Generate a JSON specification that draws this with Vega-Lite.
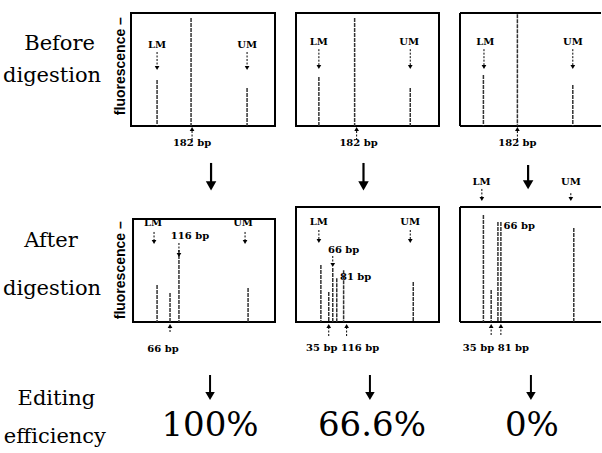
{
  "$schema": "https://vega.github.io/schema/vega-lite/v6.json",
  "background": "white",
  "padding": {"left": 0, "top": 12, "right": 0, "bottom": 0},
  "bounds": "flush",
  "columns": 4,
  "spacing": {"row": 81, "column": 21},
  "config": {
    "font": "DejaVu Serif",
    "view": {"stroke": "black", "strokeWidth": 2},
    "axisX": {"disable": true},
    "axisY": {"disable": true},
    "text": {"font": "DejaVu Serif"}
  },
  "datasets": {
    "peaks": [
      {"panel": "B1", "frag": "LM", "pos": 18.1, "height": 40.7},
      {"panel": "B1", "frag": "182", "pos": 41.7, "height": 95.6},
      {"panel": "B1", "frag": "UM", "pos": 80.6, "height": 33.6},
      {"panel": "B2", "frag": "LM", "pos": 16, "height": 43.4},
      {"panel": "B2", "frag": "182", "pos": 41, "height": 95.6},
      {"panel": "B2", "frag": "UM", "pos": 79.9, "height": 33.6},
      {"panel": "B3", "frag": "LM", "pos": 16.6, "height": 45.1},
      {"panel": "B3", "frag": "182", "pos": 40.7, "height": 99},
      {"panel": "B3", "frag": "UM", "pos": 80, "height": 36.3},
      {"panel": "A1", "frag": "LM", "pos": 18.1, "height": 32.2},
      {"panel": "A1", "frag": "66", "pos": 27.1, "height": 25.2},
      {"panel": "A1", "frag": "116", "pos": 33.3, "height": 62.6},
      {"panel": "A1", "frag": "UM", "pos": 81.3, "height": 29.6},
      {"panel": "A2", "frag": "LM", "pos": 17.4, "height": 49.6},
      {"panel": "A2", "frag": "35", "pos": 22.9, "height": 26},
      {"panel": "A2", "frag": "66", "pos": 25.7, "height": 47},
      {"panel": "A2", "frag": "81", "pos": 28.5, "height": 38},
      {"panel": "A2", "frag": "116", "pos": 33.3, "height": 45},
      {"panel": "A2", "frag": "UM", "pos": 82, "height": 34.8},
      {"panel": "A3", "frag": "LM", "pos": 16.6, "height": 93},
      {"panel": "A3", "frag": "35", "pos": 22.1, "height": 27.8},
      {"panel": "A3", "frag": "81a", "pos": 26.9, "height": 87},
      {"panel": "A3", "frag": "81b", "pos": 29, "height": 87},
      {"panel": "A3", "frag": "UM", "pos": 80.7, "height": 81.7}
    ],
    "labels": [
      {"panel": "B1", "text": "LM", "pos": 18.1, "level": 71.7},
      {"panel": "B1", "text": "UM", "pos": 80.6, "level": 71.7},
      {"panel": "B1", "text": "182 bp", "pos": 42.4, "level": -15},
      {"panel": "B2", "text": "LM", "pos": 16, "level": 74.3},
      {"panel": "B2", "text": "UM", "pos": 79.2, "level": 74.3},
      {"panel": "B2", "text": "182 bp", "pos": 43.75, "level": -15},
      {"panel": "B3", "text": "LM", "pos": 17.9, "level": 74.3},
      {"panel": "B3", "text": "UM", "pos": 80, "level": 74.3},
      {"panel": "B3", "text": "182 bp", "pos": 40.7, "level": -15},
      {"panel": "A1", "text": "LM", "pos": 15.3, "level": 86.1},
      {"panel": "A1", "text": "116 bp", "pos": 41, "level": 74.8},
      {"panel": "A1", "text": "UM", "pos": 77.8, "level": 86.1},
      {"panel": "A1", "text": "66 bp", "pos": 22.2, "level": -23.5},
      {"panel": "A2", "text": "LM", "pos": 16, "level": 87},
      {"panel": "A2", "text": "UM", "pos": 79.9, "level": 87},
      {"panel": "A2", "text": "66 bp", "pos": 33.3, "level": 62.6},
      {"panel": "A2", "text": "81 bp", "pos": 41.7, "level": 39},
      {"panel": "A2", "text": "35 bp 116 bp", "pos": 32.6, "level": -22.6},
      {"panel": "A3", "text": "LM", "pos": 15.2, "level": 121.7},
      {"panel": "A3", "text": "UM", "pos": 78.6, "level": 121.7},
      {"panel": "A3", "text": "66 bp", "pos": 42, "level": 83.5},
      {"panel": "A3", "text": "35 bp 81 bp", "pos": 25.5, "level": -22.6}
    ],
    "axisTitles": [
      {"panel": "B1", "text": "fluorescence –", "pos": -7, "level": 53},
      {"panel": "A1", "text": "fluorescence –", "pos": -7, "level": 45}
    ],
    "rowLabels": [
      {"panel": "L1", "text": "Before", "pos": 22, "level": 67.3},
      {"panel": "L1", "text": "digestion", "pos": 2.7, "level": 38.9},
      {"panel": "L2", "text": "After", "pos": 22, "level": 65.2},
      {"panel": "L2", "text": "digestion", "pos": 2.7, "level": 23.5},
      {"panel": "L3", "text": "Editing", "pos": 16, "level": 96},
      {"panel": "L3", "text": "efficiency", "pos": 3.5, "level": 20}
    ],
    "efficiency": [
      {"panel": "E1", "text": "100%", "pos": 54.9, "level": 34},
      {"panel": "E2", "text": "66.6%", "pos": 53.1, "level": 34},
      {"panel": "E3", "text": "0%", "pos": 51, "level": 34}
    ],
    "arrows": [
      {"panel": "B1", "kind": "small", "dir": "down", "pos": 18.1, "tail": 65.5, "tip": 51.3},
      {"panel": "B1", "kind": "small", "dir": "down", "pos": 80.6, "tail": 65.5, "tip": 51.3},
      {"panel": "B1", "kind": "small", "dir": "up", "pos": 42.4, "tail": -12.4, "tip": -2.7},
      {"panel": "B1", "kind": "big", "dir": "down", "pos": 55.6, "tail": -32.7, "tip": -53},
      {"panel": "B2", "kind": "small", "dir": "down", "pos": 16, "tail": 68, "tip": 52.2},
      {"panel": "B2", "kind": "small", "dir": "down", "pos": 79.9, "tail": 68, "tip": 52.2},
      {"panel": "B2", "kind": "small", "dir": "up", "pos": 42.4, "tail": -12.4, "tip": -2.7},
      {"panel": "B2", "kind": "big", "dir": "down", "pos": 47.2, "tail": -32.7, "tip": -53},
      {"panel": "B3", "kind": "small", "dir": "down", "pos": 17, "tail": 68, "tip": 52.2},
      {"panel": "B3", "kind": "small", "dir": "down", "pos": 80, "tail": 68, "tip": 52.2},
      {"panel": "B3", "kind": "small", "dir": "up", "pos": 40.7, "tail": -12.4, "tip": -2.7},
      {"panel": "B3", "kind": "big", "dir": "down", "pos": 48.3, "tail": -34.5, "tip": -52},
      {"panel": "A1", "kind": "small", "dir": "down", "pos": 16, "tail": 78.3, "tip": 69.6},
      {"panel": "A1", "kind": "small", "dir": "down", "pos": 33.3, "tail": 68.7, "tip": 58.3},
      {"panel": "A1", "kind": "small", "dir": "down", "pos": 79.2, "tail": 78.3, "tip": 69.6},
      {"panel": "A1", "kind": "small", "dir": "up", "pos": 27.1, "tail": -8.7, "tip": -3.5},
      {"panel": "A2", "kind": "small", "dir": "down", "pos": 16, "tail": 80, "tip": 70.4},
      {"panel": "A2", "kind": "small", "dir": "down", "pos": 79.9, "tail": 80, "tip": 70.4},
      {"panel": "A2", "kind": "small", "dir": "down", "pos": 25.7, "tail": 57.4, "tip": 49.6},
      {"panel": "A2", "kind": "small", "dir": "up", "pos": 22.9, "tail": -12.2, "tip": -3.5},
      {"panel": "A2", "kind": "small", "dir": "up", "pos": 35.4, "tail": -12.2, "tip": -3.5},
      {"panel": "A3", "kind": "small", "dir": "down", "pos": 15.5, "tail": 115.7, "tip": 107},
      {"panel": "A3", "kind": "small", "dir": "down", "pos": 78.6, "tail": 112, "tip": 107},
      {"panel": "A3", "kind": "small", "dir": "up", "pos": 22.1, "tail": -11.3, "tip": -3.5},
      {"panel": "A3", "kind": "small", "dir": "up", "pos": 29, "tail": -11.3, "tip": -3.5},
      {"panel": "E1", "kind": "big", "dir": "down", "pos": 54.9, "tail": 156, "tip": 114},
      {"panel": "E2", "kind": "big", "dir": "down", "pos": 51.7, "tail": 156, "tip": 114},
      {"panel": "E3", "kind": "big", "dir": "down", "pos": 50.3, "tail": 156, "tip": 114}
    ]
  },
  "concat": [
    {
      "width": 110, "height": 113, "view": {"stroke": null},
      "data": {"name": "rowLabels"},
      "transform": [{"filter": "datum.panel === 'L1'"}],
      "mark": {"type": "text", "align": "left", "baseline": "alphabetic", "fontSize": 21, "font": "DejaVu Serif"},
      "encoding": {
        "x": {"field": "pos", "type": "quantitative", "scale": {"domain": [0, 100]}},
        "y": {"field": "level", "type": "quantitative", "scale": {"domain": [0, 100]}},
        "text": {"field": "text"}
      }
    },
    {
      "width": 144, "height": 113,
      "layer": [
        {"data": {"name": "peaks"}, "transform": [{"filter": "datum.panel === 'B1'"}],
         "mark": {"type": "rule", "color": "#333", "strokeWidth": 1.5, "strokeDash": [4, 1]},
         "encoding": {
           "x": {"field": "pos", "type": "quantitative", "scale": {"domain": [0, 100]}},
           "y": {"field": "height", "type": "quantitative", "scale": {"domain": [0, 100]}},
           "y2": {"datum": 0}}},
        {"data": {"name": "axisTitles"}, "transform": [{"filter": "datum.panel === 'B1'"}],
         "mark": {"type": "text", "angle": 270, "font": "Liberation Sans", "fontWeight": "bold", "fontSize": 14, "baseline": "middle", "align": "center"},
         "encoding": {"x": {"field": "pos", "type": "quantitative"}, "y": {"field": "level", "type": "quantitative"}, "text": {"field": "text"}}},
        {"data": {"name": "labels"}, "transform": [{"filter": "datum.panel === 'B1'"}],
         "mark": {"type": "text", "fontSize": 10, "fontWeight": "bold", "baseline": "middle", "font": "DejaVu Serif"},
         "encoding": {"x": {"field": "pos", "type": "quantitative"}, "y": {"field": "level", "type": "quantitative"}, "text": {"field": "text"}}},
        {"data": {"name": "arrows"}, "transform": [{"filter": "datum.panel === 'B1' && datum.kind === 'small'"}],
         "mark": {"type": "rule", "color": "black", "strokeWidth": 1, "strokeDash": [2, 1.5]},
         "encoding": {"x": {"field": "pos", "type": "quantitative"}, "y": {"field": "tail", "type": "quantitative"}, "y2": {"field": "tip"}}},
        {"data": {"name": "arrows"}, "transform": [{"filter": "datum.panel === 'B1' && datum.kind === 'small'"}],
         "mark": {"type": "point", "filled": true, "color": "black", "size": 22, "opacity": 1},
         "encoding": {"x": {"field": "pos", "type": "quantitative"}, "y": {"field": "tip", "type": "quantitative"},
           "shape": {"field": "dir", "type": "nominal", "scale": {"domain": ["down", "up"], "range": ["triangle-down", "triangle-up"]}, "legend": null}}},
        {"data": {"name": "arrows"}, "transform": [{"filter": "datum.panel === 'B1' && datum.kind === 'big'"}],
         "mark": {"type": "rule", "color": "black", "strokeWidth": 2.2},
         "encoding": {"x": {"field": "pos", "type": "quantitative"}, "y": {"field": "tail", "type": "quantitative"}, "y2": {"field": "tip"}}},
        {"data": {"name": "arrows"}, "transform": [{"filter": "datum.panel === 'B1' && datum.kind === 'big'"}],
         "mark": {"type": "point", "filled": true, "color": "black", "size": 110, "opacity": 1, "shape": "triangle-down"},
         "encoding": {"x": {"field": "pos", "type": "quantitative"}, "y": {"field": "tip", "type": "quantitative"}}}
      ]
    },
    {
      "width": 143, "height": 113,
      "layer": [
        {"data": {"name": "peaks"}, "transform": [{"filter": "datum.panel === 'B2'"}],
         "mark": {"type": "rule", "color": "#333", "strokeWidth": 1.5, "strokeDash": [4, 1]},
         "encoding": {
           "x": {"field": "pos", "type": "quantitative", "scale": {"domain": [0, 100]}},
           "y": {"field": "height", "type": "quantitative", "scale": {"domain": [0, 100]}},
           "y2": {"datum": 0}}},
        {"data": {"name": "labels"}, "transform": [{"filter": "datum.panel === 'B2'"}],
         "mark": {"type": "text", "fontSize": 10, "fontWeight": "bold", "baseline": "middle", "font": "DejaVu Serif"},
         "encoding": {"x": {"field": "pos", "type": "quantitative"}, "y": {"field": "level", "type": "quantitative"}, "text": {"field": "text"}}},
        {"data": {"name": "arrows"}, "transform": [{"filter": "datum.panel === 'B2' && datum.kind === 'small'"}],
         "mark": {"type": "rule", "color": "black", "strokeWidth": 1, "strokeDash": [2, 1.5]},
         "encoding": {"x": {"field": "pos", "type": "quantitative"}, "y": {"field": "tail", "type": "quantitative"}, "y2": {"field": "tip"}}},
        {"data": {"name": "arrows"}, "transform": [{"filter": "datum.panel === 'B2' && datum.kind === 'small'"}],
         "mark": {"type": "point", "filled": true, "color": "black", "size": 22, "opacity": 1},
         "encoding": {"x": {"field": "pos", "type": "quantitative"}, "y": {"field": "tip", "type": "quantitative"},
           "shape": {"field": "dir", "type": "nominal", "scale": {"domain": ["down", "up"], "range": ["triangle-down", "triangle-up"]}, "legend": null}}},
        {"data": {"name": "arrows"}, "transform": [{"filter": "datum.panel === 'B2' && datum.kind === 'big'"}],
         "mark": {"type": "rule", "color": "black", "strokeWidth": 2.2},
         "encoding": {"x": {"field": "pos", "type": "quantitative"}, "y": {"field": "tail", "type": "quantitative"}, "y2": {"field": "tip"}}},
        {"data": {"name": "arrows"}, "transform": [{"filter": "datum.panel === 'B2' && datum.kind === 'big'"}],
         "mark": {"type": "point", "filled": true, "color": "black", "size": 110, "opacity": 1, "shape": "triangle-down"},
         "encoding": {"x": {"field": "pos", "type": "quantitative"}, "y": {"field": "tip", "type": "quantitative"}}}
      ]
    },
    {
      "width": 141, "height": 113, "view": {"stroke": null},
      "layer": [
        {"data": {"values": [{"edge": 100}, {"edge": 0}]},
         "mark": {"type": "rule", "color": "black", "strokeWidth": 2},
         "encoding": {"y": {"field": "edge", "type": "quantitative", "scale": {"domain": [0, 100]}}}},
        {"data": {"values": [{"edge": 0}]},
         "mark": {"type": "rule", "color": "black", "strokeWidth": 2},
         "encoding": {"x": {"field": "edge", "type": "quantitative", "scale": {"domain": [0, 100]}}}},
        {"data": {"name": "peaks"}, "transform": [{"filter": "datum.panel === 'B3'"}],
         "mark": {"type": "rule", "color": "#333", "strokeWidth": 1.5, "strokeDash": [4, 1]},
         "encoding": {
           "x": {"field": "pos", "type": "quantitative"},
           "y": {"field": "height", "type": "quantitative"},
           "y2": {"datum": 0}}},
        {"data": {"name": "labels"}, "transform": [{"filter": "datum.panel === 'B3'"}],
         "mark": {"type": "text", "fontSize": 10, "fontWeight": "bold", "baseline": "middle", "font": "DejaVu Serif"},
         "encoding": {"x": {"field": "pos", "type": "quantitative"}, "y": {"field": "level", "type": "quantitative"}, "text": {"field": "text"}}},
        {"data": {"name": "arrows"}, "transform": [{"filter": "datum.panel === 'B3' && datum.kind === 'small'"}],
         "mark": {"type": "rule", "color": "black", "strokeWidth": 1, "strokeDash": [2, 1.5]},
         "encoding": {"x": {"field": "pos", "type": "quantitative"}, "y": {"field": "tail", "type": "quantitative"}, "y2": {"field": "tip"}}},
        {"data": {"name": "arrows"}, "transform": [{"filter": "datum.panel === 'B3' && datum.kind === 'small'"}],
         "mark": {"type": "point", "filled": true, "color": "black", "size": 22, "opacity": 1},
         "encoding": {"x": {"field": "pos", "type": "quantitative"}, "y": {"field": "tip", "type": "quantitative"},
           "shape": {"field": "dir", "type": "nominal", "scale": {"domain": ["down", "up"], "range": ["triangle-down", "triangle-up"]}, "legend": null}}},
        {"data": {"name": "arrows"}, "transform": [{"filter": "datum.panel === 'B3' && datum.kind === 'big'"}],
         "mark": {"type": "rule", "color": "black", "strokeWidth": 2.2},
         "encoding": {"x": {"field": "pos", "type": "quantitative"}, "y": {"field": "tail", "type": "quantitative"}, "y2": {"field": "tip"}}},
        {"data": {"name": "arrows"}, "transform": [{"filter": "datum.panel === 'B3' && datum.kind === 'big'"}],
         "mark": {"type": "point", "filled": true, "color": "black", "size": 110, "opacity": 1, "shape": "triangle-down"},
         "encoding": {"x": {"field": "pos", "type": "quantitative"}, "y": {"field": "tip", "type": "quantitative"}}}
      ]
    },
    {
      "width": 110, "height": 115, "view": {"stroke": null},
      "data": {"name": "rowLabels"},
      "transform": [{"filter": "datum.panel === 'L2'"}],
      "mark": {"type": "text", "align": "left", "baseline": "alphabetic", "fontSize": 21, "font": "DejaVu Serif"},
      "encoding": {
        "x": {"field": "pos", "type": "quantitative", "scale": {"domain": [0, 100]}},
        "y": {"field": "level", "type": "quantitative", "scale": {"domain": [0, 100]}},
        "text": {"field": "text"}
      }
    },
    {
      "width": 144, "height": 115, "view": {"stroke": null},
      "layer": [
        {"data": {"values": [{"left": 1.4, "right": 100, "bottom": 0, "top": 89.6}]},
         "mark": {"type": "rect", "filled": false, "color": "black", "strokeWidth": 2},
         "encoding": {
           "x": {"field": "left", "type": "quantitative", "scale": {"domain": [0, 100]}},
           "x2": {"field": "right"},
           "y": {"field": "bottom", "type": "quantitative", "scale": {"domain": [0, 100]}},
           "y2": {"field": "top"}}},
        {"data": {"name": "axisTitles"}, "transform": [{"filter": "datum.panel === 'A1'"}],
         "mark": {"type": "text", "angle": 270, "font": "Liberation Sans", "fontWeight": "bold", "fontSize": 14, "baseline": "middle", "align": "center"},
         "encoding": {"x": {"field": "pos", "type": "quantitative"}, "y": {"field": "level", "type": "quantitative"}, "text": {"field": "text"}}},
        {"data": {"name": "peaks"}, "transform": [{"filter": "datum.panel === 'A1'"}],
         "mark": {"type": "rule", "color": "#333", "strokeWidth": 1.5, "strokeDash": [4, 1]},
         "encoding": {
           "x": {"field": "pos", "type": "quantitative"},
           "y": {"field": "height", "type": "quantitative"},
           "y2": {"datum": 0}}},
        {"data": {"name": "labels"}, "transform": [{"filter": "datum.panel === 'A1'"}],
         "mark": {"type": "text", "fontSize": 10, "fontWeight": "bold", "baseline": "middle", "font": "DejaVu Serif"},
         "encoding": {"x": {"field": "pos", "type": "quantitative"}, "y": {"field": "level", "type": "quantitative"}, "text": {"field": "text"}}},
        {"data": {"name": "arrows"}, "transform": [{"filter": "datum.panel === 'A1' && datum.kind === 'small'"}],
         "mark": {"type": "rule", "color": "black", "strokeWidth": 1, "strokeDash": [2, 1.5]},
         "encoding": {"x": {"field": "pos", "type": "quantitative"}, "y": {"field": "tail", "type": "quantitative"}, "y2": {"field": "tip"}}},
        {"data": {"name": "arrows"}, "transform": [{"filter": "datum.panel === 'A1' && datum.kind === 'small'"}],
         "mark": {"type": "point", "filled": true, "color": "black", "size": 22, "opacity": 1},
         "encoding": {"x": {"field": "pos", "type": "quantitative"}, "y": {"field": "tip", "type": "quantitative"},
           "shape": {"field": "dir", "type": "nominal", "scale": {"domain": ["down", "up"], "range": ["triangle-down", "triangle-up"]}, "legend": null}}}
      ]
    },
    {
      "width": 143, "height": 115,
      "layer": [
        {"data": {"name": "peaks"}, "transform": [{"filter": "datum.panel === 'A2'"}],
         "mark": {"type": "rule", "color": "#333", "strokeWidth": 1.5, "strokeDash": [4, 1]},
         "encoding": {
           "x": {"field": "pos", "type": "quantitative", "scale": {"domain": [0, 100]}},
           "y": {"field": "height", "type": "quantitative", "scale": {"domain": [0, 100]}},
           "y2": {"datum": 0}}},
        {"data": {"name": "labels"}, "transform": [{"filter": "datum.panel === 'A2'"}],
         "mark": {"type": "text", "fontSize": 10, "fontWeight": "bold", "baseline": "middle", "font": "DejaVu Serif"},
         "encoding": {"x": {"field": "pos", "type": "quantitative"}, "y": {"field": "level", "type": "quantitative"}, "text": {"field": "text"}}},
        {"data": {"name": "arrows"}, "transform": [{"filter": "datum.panel === 'A2' && datum.kind === 'small'"}],
         "mark": {"type": "rule", "color": "black", "strokeWidth": 1, "strokeDash": [2, 1.5]},
         "encoding": {"x": {"field": "pos", "type": "quantitative"}, "y": {"field": "tail", "type": "quantitative"}, "y2": {"field": "tip"}}},
        {"data": {"name": "arrows"}, "transform": [{"filter": "datum.panel === 'A2' && datum.kind === 'small'"}],
         "mark": {"type": "point", "filled": true, "color": "black", "size": 22, "opacity": 1},
         "encoding": {"x": {"field": "pos", "type": "quantitative"}, "y": {"field": "tip", "type": "quantitative"},
           "shape": {"field": "dir", "type": "nominal", "scale": {"domain": ["down", "up"], "range": ["triangle-down", "triangle-up"]}, "legend": null}}}
      ]
    },
    {
      "width": 141, "height": 115, "view": {"stroke": null},
      "layer": [
        {"data": {"values": [{"edge": 100}, {"edge": 0}]},
         "mark": {"type": "rule", "color": "black", "strokeWidth": 2},
         "encoding": {"y": {"field": "edge", "type": "quantitative", "scale": {"domain": [0, 100]}}}},
        {"data": {"values": [{"edge": 0}]},
         "mark": {"type": "rule", "color": "black", "strokeWidth": 2},
         "encoding": {"x": {"field": "edge", "type": "quantitative", "scale": {"domain": [0, 100]}}}},
        {"data": {"name": "peaks"}, "transform": [{"filter": "datum.panel === 'A3'"}],
         "mark": {"type": "rule", "color": "#333", "strokeWidth": 1.5, "strokeDash": [4, 1]},
         "encoding": {
           "x": {"field": "pos", "type": "quantitative"},
           "y": {"field": "height", "type": "quantitative"},
           "y2": {"datum": 0}}},
        {"data": {"name": "labels"}, "transform": [{"filter": "datum.panel === 'A3'"}],
         "mark": {"type": "text", "fontSize": 10, "fontWeight": "bold", "baseline": "middle", "font": "DejaVu Serif"},
         "encoding": {"x": {"field": "pos", "type": "quantitative"}, "y": {"field": "level", "type": "quantitative"}, "text": {"field": "text"}}},
        {"data": {"name": "arrows"}, "transform": [{"filter": "datum.panel === 'A3' && datum.kind === 'small'"}],
         "mark": {"type": "rule", "color": "black", "strokeWidth": 1, "strokeDash": [2, 1.5]},
         "encoding": {"x": {"field": "pos", "type": "quantitative"}, "y": {"field": "tail", "type": "quantitative"}, "y2": {"field": "tip"}}},
        {"data": {"name": "arrows"}, "transform": [{"filter": "datum.panel === 'A3' && datum.kind === 'small'"}],
         "mark": {"type": "point", "filled": true, "color": "black", "size": 22, "opacity": 1},
         "encoding": {"x": {"field": "pos", "type": "quantitative"}, "y": {"field": "tip", "type": "quantitative"},
           "shape": {"field": "dir", "type": "nominal", "scale": {"domain": ["down", "up"], "range": ["triangle-down", "triangle-up"]}, "legend": null}}}
      ]
    },
    {
      "width": 110, "height": 50, "view": {"stroke": null},
      "data": {"name": "rowLabels"},
      "transform": [{"filter": "datum.panel === 'L3'"}],
      "mark": {"type": "text", "align": "left", "baseline": "alphabetic", "fontSize": 21, "font": "DejaVu Serif"},
      "encoding": {
        "x": {"field": "pos", "type": "quantitative", "scale": {"domain": [0, 100]}},
        "y": {"field": "level", "type": "quantitative", "scale": {"domain": [0, 100]}},
        "text": {"field": "text"}
      }
    },
    {
      "width": 144, "height": 50, "view": {"stroke": null},
      "layer": [
        {"data": {"name": "arrows"}, "transform": [{"filter": "datum.panel === 'E1'"}],
         "mark": {"type": "rule", "color": "black", "strokeWidth": 2},
         "encoding": {"x": {"field": "pos", "type": "quantitative", "scale": {"domain": [0, 100]}}, "y": {"field": "tail", "type": "quantitative", "scale": {"domain": [0, 100]}}, "y2": {"field": "tip"}}},
        {"data": {"name": "arrows"}, "transform": [{"filter": "datum.panel === 'E1'"}],
         "mark": {"type": "point", "filled": true, "color": "black", "size": 90, "opacity": 1, "shape": "triangle-down"},
         "encoding": {"x": {"field": "pos", "type": "quantitative"}, "y": {"field": "tip", "type": "quantitative"}}},
        {"data": {"name": "efficiency"}, "transform": [{"filter": "datum.panel === 'E1'"}],
         "mark": {"type": "text", "fontSize": 34, "align": "center", "baseline": "alphabetic", "font": "DejaVu Serif"},
         "encoding": {"x": {"field": "pos", "type": "quantitative"}, "y": {"field": "level", "type": "quantitative"}, "text": {"field": "text"}}}
      ]
    },
    {
      "width": 143, "height": 50, "view": {"stroke": null},
      "layer": [
        {"data": {"name": "arrows"}, "transform": [{"filter": "datum.panel === 'E2'"}],
         "mark": {"type": "rule", "color": "black", "strokeWidth": 2},
         "encoding": {"x": {"field": "pos", "type": "quantitative", "scale": {"domain": [0, 100]}}, "y": {"field": "tail", "type": "quantitative", "scale": {"domain": [0, 100]}}, "y2": {"field": "tip"}}},
        {"data": {"name": "arrows"}, "transform": [{"filter": "datum.panel === 'E2'"}],
         "mark": {"type": "point", "filled": true, "color": "black", "size": 90, "opacity": 1, "shape": "triangle-down"},
         "encoding": {"x": {"field": "pos", "type": "quantitative"}, "y": {"field": "tip", "type": "quantitative"}}},
        {"data": {"name": "efficiency"}, "transform": [{"filter": "datum.panel === 'E2'"}],
         "mark": {"type": "text", "fontSize": 34, "align": "center", "baseline": "alphabetic", "font": "DejaVu Serif"},
         "encoding": {"x": {"field": "pos", "type": "quantitative"}, "y": {"field": "level", "type": "quantitative"}, "text": {"field": "text"}}}
      ]
    },
    {
      "width": 141, "height": 50, "view": {"stroke": null},
      "layer": [
        {"data": {"name": "arrows"}, "transform": [{"filter": "datum.panel === 'E3'"}],
         "mark": {"type": "rule", "color": "black", "strokeWidth": 2},
         "encoding": {"x": {"field": "pos", "type": "quantitative", "scale": {"domain": [0, 100]}}, "y": {"field": "tail", "type": "quantitative", "scale": {"domain": [0, 100]}}, "y2": {"field": "tip"}}},
        {"data": {"name": "arrows"}, "transform": [{"filter": "datum.panel === 'E3'"}],
         "mark": {"type": "point", "filled": true, "color": "black", "size": 90, "opacity": 1, "shape": "triangle-down"},
         "encoding": {"x": {"field": "pos", "type": "quantitative"}, "y": {"field": "tip", "type": "quantitative"}}},
        {"data": {"name": "efficiency"}, "transform": [{"filter": "datum.panel === 'E3'"}],
         "mark": {"type": "text", "fontSize": 34, "align": "center", "baseline": "alphabetic", "font": "DejaVu Serif"},
         "encoding": {"x": {"field": "pos", "type": "quantitative"}, "y": {"field": "level", "type": "quantitative"}, "text": {"field": "text"}}}
      ]
    }
  ]
}
